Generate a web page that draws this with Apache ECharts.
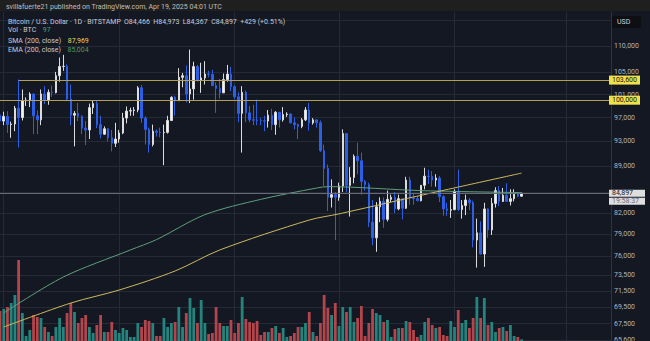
<!DOCTYPE html>
<html><head><meta charset="utf-8">
<script src="https://cdn.jsdelivr.net/npm/echarts@6/dist/echarts.min.js"></script>
<style>html,body{margin:0;padding:0;background:#141823;}#c{width:650px;height:341px;}</style>
</head><body><div id="c"></div>
<script>
// ---- categories: one per day, Nov 30 2024 .. May 13 2025 (future days empty)
const categories = [];
for (let i = 0; i < 165; i++) {
  const d = new Date(Date.UTC(2024, 10, 30 + i));
  categories.push(d.toISOString().slice(0, 10));
}
// ---- daily candles (Nov 30 2024 .. Apr 19 2025), BTC/USD BITSTAMP
const open = [97450,96400,97200,95800,95900,98600,97000,99900,100000,101100,97300,96600,101100,100000,101400,101350,104400,106100,106150,100200,97400,97700,97200,95200,94900,98700,99400,95800,94200,95100,93600,92700,
93400,94400,96900,98100,98200,98300,102200,96900,95000,92500,94700,94500,94450,94500,96500,100500,99900,104100,104400,101100,102000,106100,103600,104000,104700,104650,102600,102100,101300,103700,104700,
102400,100600,97700,101400,97800,96600,96550,96500,96450,96400,97400,95800,97900,96600,97500,97600,96100,95800,95500,96600,98300,96100,96600,96100,91500,88700,84300,84700,
84300,86000,94300,86100,87300,90600,89900,86700,86200,80700,78500,82900,83700,81100,84000,84300,82600,84100,82700,86900,84200,84100,83800,86100,87500,87450,86900,87200,84400,82600,82400,
82500,85200,82500,83100,83900,83500,78200,79200,76300,82600,79600,83400,85300,83700,84600,83700,84100,84900,84466];
const high = [97500,98000,98100,96300,99000,103700,101900,100500,101400,101200,98200,101900,102500,101900,102600,105100,107800,108300,106500,102800,98100,99500,97400,96400,99400,99900,99900,97300,95500,95200,94900,96100,
94900,97800,98900,98700,98800,102500,102700,97200,95300,95800,95000,95300,95800,97300,100700,100800,105800,104900,106300,109300,107000,106400,106800,107100,105300,105500,103200,103800,104800,106400,106000,
102700,101400,102500,101700,99000,99200,100100,96900,97300,98300,98500,98100,97900,98800,97900,97700,97000,96000,96900,98800,99500,96900,96600,96500,92500,89300,87000,85100,
86500,95000,94400,88900,90900,92800,91200,86900,86500,83900,83600,84300,84300,85300,84700,85100,84700,84100,87400,87400,84800,84500,86100,88800,88500,88300,87800,87500,84600,83500,83900,
85500,88500,83900,84700,84200,83800,81200,80800,83500,82700,84200,85800,86000,85700,86400,85500,85500,85100,84973];
const low = [96100,95700,94400,93600,94700,92000,96500,99000,98800,94200,94200,95700,99300,99200,100600,101200,103300,105300,100000,95700,92200,96400,94200,92400,93400,97600,95200,93500,94100,93000,91400,92100,
92800,94200,96000,97300,97300,97900,96100,92500,91200,92200,93800,93700,89200,94300,96400,97300,99900,102300,99600,99500,100100,103300,101300,102800,104100,102500,97800,100300,101300,103300,101600,
100200,96200,91200,96200,96200,95700,95700,95700,94700,95300,94900,94100,95300,96300,97100,96000,95000,93400,95200,96400,94800,95800,95300,91300,86000,82300,82800,78200,
83800,85100,85100,81500,86400,87800,84700,85300,80000,77500,76600,80700,79900,80800,83600,82000,82400,81100,82600,83200,83200,83700,83700,85500,86300,85900,85900,83600,81600,81600,81300,
82400,82300,81200,81700,82400,77200,74500,76200,74600,78500,78900,82800,83000,83600,83600,83100,83700,84300,84367];
const close = [96400,97200,95800,95900,98600,97000,99900,100000,101100,97300,96600,101100,100000,101400,101350,104400,106100,106150,100200,97400,97700,97200,95200,94900,98700,99400,95800,94200,95100,93600,92700,93400,
94400,96900,98100,98200,98300,102200,96900,95000,92500,94700,94500,94450,94500,96500,100500,99900,104100,104400,101100,102000,106100,103600,104000,104700,104650,102600,102100,101300,103700,104700,102400,
100600,97700,101400,97800,96600,96550,96500,96450,96400,97400,95800,97900,96600,97500,97600,96100,95800,95500,96600,98300,96100,96600,96100,91500,88700,84300,84700,84300,
86000,94300,86100,87300,90600,89900,86700,86200,80700,78500,82900,83700,81100,84000,84300,82600,84100,82700,86900,84200,84100,83800,86100,87500,87450,86900,87200,84400,82600,82400,82500,
85200,82500,83100,83900,83500,78200,79200,76300,82600,79600,83400,85300,83700,84600,83700,84100,84900,84466,84897];
// ---- daily volume, BTC
const volume = [1800,1920,2040,2280,2760,4860,1680,300,660,1560,1440,1380,840,540,300,840,1380,840,1680,2280,1740,1080,1380,1560,840,480,960,1560,540,540,1140,660,
480,780,660,240,240,1080,840,1260,1200,1080,300,300,1380,840,1080,1140,2040,840,1680,2580,1980,1080,2460,1080,420,480,2040,1080,900,900,1260,
480,1080,2640,1320,1140,1080,1200,360,540,540,780,900,480,780,240,300,480,840,840,1080,1740,540,300,1080,2760,1980,1560,2280,
900,2040,1740,2040,1140,1380,2100,300,1080,1920,1680,1560,1140,1260,240,720,780,780,1200,1140,660,240,360,1140,1380,960,780,840,360,300,1200,
840,1860,1080,1260,780,1380,2640,1380,2580,960,1140,540,780,840,600,960,300,240,97];
// ---- moving averages read at a few days
const smaPoints = [['2024-12-01',67110],['2024-12-19',70000],['2025-01-01',71620],['2025-01-16',74060],['2025-01-28',76850],['2025-02-21',81000],['2025-03-01',81880],['2025-03-21',84350],['2025-04-19',87969]];
const emaPoints = [['2024-12-01',68790],['2024-12-17',73280],['2025-01-04',76850],['2025-01-11',78260],['2025-01-24',81770],['2025-02-08',84000],['2025-02-23',85690],['2025-02-26',85900],['2025-03-23',85300],['2025-04-19',85004]];
// ---- price axis ticks
const priceTicks = [115000,110000,105000,101000,97000,93000,89000,85000,82000,79000,76000,73500,71500,69500,67500,65600];
const priceLabels = [110000,105000,101000,97000,93000,89000,82000,79000,76000,73500,71500,69500,67500,65600];
const levels = [103600, 100000];
const levelStarts = ['2024-12-05', '2024-11-30'];
const lastPrice = 84897;
const countdown = '19:58:37';

const fmt = v => Math.round(v).toString().replace(/\B(?=(\d{3})+(?!\d))/g, ',');
const UP = '#f2f2f2', DOWN = '#2d5ee6';
const lastCat = categories[categories.length - 1];
const FONT = 'Roboto';

const ohlc = open.map((o, i) => [o, close[i], low[i], high[i]]);
const volData = volume.map((v, i) => ({ value: v, itemStyle: { color: close[i] >= open[i] ? '#23857d' : '#b3454c' } }));

const levelLine = (i) => [
  { coord: [levelStarts[i], levels[i]], lineStyle: { color: '#b0a153', width: 1, type: 'solid' },
    label: { show: true, position: 'end', distance: -2, formatter: () => fmt(levels[i]), backgroundColor: '#f0e14a', color: '#111', padding: [1, 3, 1, 3], fontSize: 7, lineHeight: 7, fontFamily: FONT } },
  { coord: [lastCat, levels[i]] }
];

const chart = echarts.init(document.getElementById('c'), null, { renderer: 'svg' });
chart.setOption({
  animation: false,
  backgroundColor: '#141823',
  textStyle: { fontFamily: FONT },
  grid: { left: 0, right: 39, top: 12, bottom: 0 },
  xAxis: {
    type: 'category', data: categories, boundaryGap: false,
    axisLine: { show: false }, axisTick: { show: false }, axisLabel: { show: false },
    splitLine: { show: true, interval: (i, v) => v.slice(8) === '01', lineStyle: { color: '#252a36', width: 1 } }
  },
  yAxis: [
    { type: 'log', logBase: 10, min: 65480, max: 116776, position: 'right',
      axisLine: { show: true, lineStyle: { color: '#2e3340' } }, axisTick: { show: false },
      axisLabel: { show: false }, splitLine: { show: false } },
    { type: 'value', min: 0, max: 19740, show: false, splitLine: { show: false } }
  ],
  series: [
    { type: 'line', data: [], yAxisIndex: 0, silent: true,
      markLine: { silent: true, z: 0, symbol: ['none', 'none'], animation: false,
        lineStyle: { color: '#252a36', width: 1, type: 'solid' },
        label: { show: true, position: 'end', distance: 3, color: '#b2b5be', fontSize: 7, fontFamily: FONT, formatter: p => fmt(p.value) },
        data: priceTicks.map(v => ({ yAxis: v, label: { show: priceLabels.indexOf(v) >= 0 } })) } },
    { type: 'bar', name: 'Vol', yAxisIndex: 1, data: volData, barWidth: 2.8, silent: true },
    { type: 'line', name: 'EMA', data: emaPoints, yAxisIndex: 0, symbol: 'none', smooth: 0.3, silent: true,
      lineStyle: { color: '#5f9f7c', width: 1 } },
    { type: 'line', name: 'SMA', data: smaPoints, yAxisIndex: 0, symbol: 'none', smooth: 0.3, silent: true,
      lineStyle: { color: '#cdb95e', width: 1 } },
    { type: 'candlestick', yAxisIndex: 0, data: ohlc, barWidth: 2, silent: true,
      itemStyle: { color: UP, color0: DOWN, borderColor: '#dcdcdc', borderColor0: DOWN, borderWidth: 1 },
      markLine: { silent: true, symbol: ['none', 'none'], animation: false,
        data: [
          levelLine(0),
          levelLine(1),
          [{ coord: [categories[0], lastPrice], lineStyle: { color: '#656a75', width: 1, type: 'solid' },
             label: { show: true, position: 'end', distance: -2, fontFamily: FONT,
               formatter: () => '{s| }\n{a|' + fmt(lastPrice) + '}\n{b|' + countdown + '}',
               rich: { s: { fontSize: 7, lineHeight: 8 },
                       a: { fontSize: 7, lineHeight: 8, color: '#151924', backgroundColor: '#dedede', width: 30, padding: [0, 3, 0, 3], fontFamily: FONT },
                       b: { fontSize: 7, lineHeight: 8, color: '#6a6d78', backgroundColor: '#dedede', width: 30, padding: [0, 3, 0, 3], fontFamily: FONT } } } },
           { coord: [lastCat, lastPrice] }]
        ] } }
  ],
  graphic: [
    { type: 'rect', shape: { x: 0, y: 0, width: 650, height: 11 }, style: { fill: '#1f1f20' }, z: 100 },
    { type: 'text', x: 6, y: 6.5, z: 101, style: { text: 'svillafuerte21 published on TradingView.com, Apr 19, 2025 04:01 UTC', fill: '#bfbfbf', font: '7px Roboto', verticalAlign: 'middle' } },
    { type: 'text', x: 8, y: 22, z: 101, style: { text: 'Bitcoin / U.S. Dollar · 1D · BITSTAMP', fill: '#c9ccd4', font: '7px Roboto', verticalAlign: 'middle' } },
    { type: 'text', x: 124, y: 22, z: 101, style: { text: 'O84,466  H84,973  L84,367  C84,897  +429 (+0.51%)', fill: '#c9ccd4', font: '7px Roboto', verticalAlign: 'middle' } },
    { type: 'text', x: 8, y: 30, z: 101, style: { text: '{l|Vol · BTC}  {v|97}', verticalAlign: 'middle', rich: { l: { fill: '#c9ccd4', font: '7px Roboto' }, v: { fill: '#3aa195', font: '7px Roboto' } } } },
    { type: 'text', x: 8, y: 40.5, z: 101, style: { text: '{l|SMA (200, close)}  {v|87,969}', verticalAlign: 'middle', rich: { l: { fill: '#c9ccd4', font: '7px Roboto' }, v: { fill: '#e9d75a', font: '7px Roboto' } } } },
    { type: 'text', x: 8, y: 49.5, z: 101, style: { text: '{l|EMA (200, close)}  {v|85,004}', verticalAlign: 'middle', rich: { l: { fill: '#c9ccd4', font: '7px Roboto' }, v: { fill: '#55985f', font: '7px Roboto' } } } },
    { type: 'rect', shape: { x: 612, y: 16, width: 29, height: 12 }, style: { fill: '#0e0f12' }, z: 101 },
    { type: 'text', x: 617, y: 22, z: 102, style: { text: 'USD', fill: '#d0d2d8', font: '7px Roboto', verticalAlign: 'middle' } }
  ]
});
</script></body></html>
